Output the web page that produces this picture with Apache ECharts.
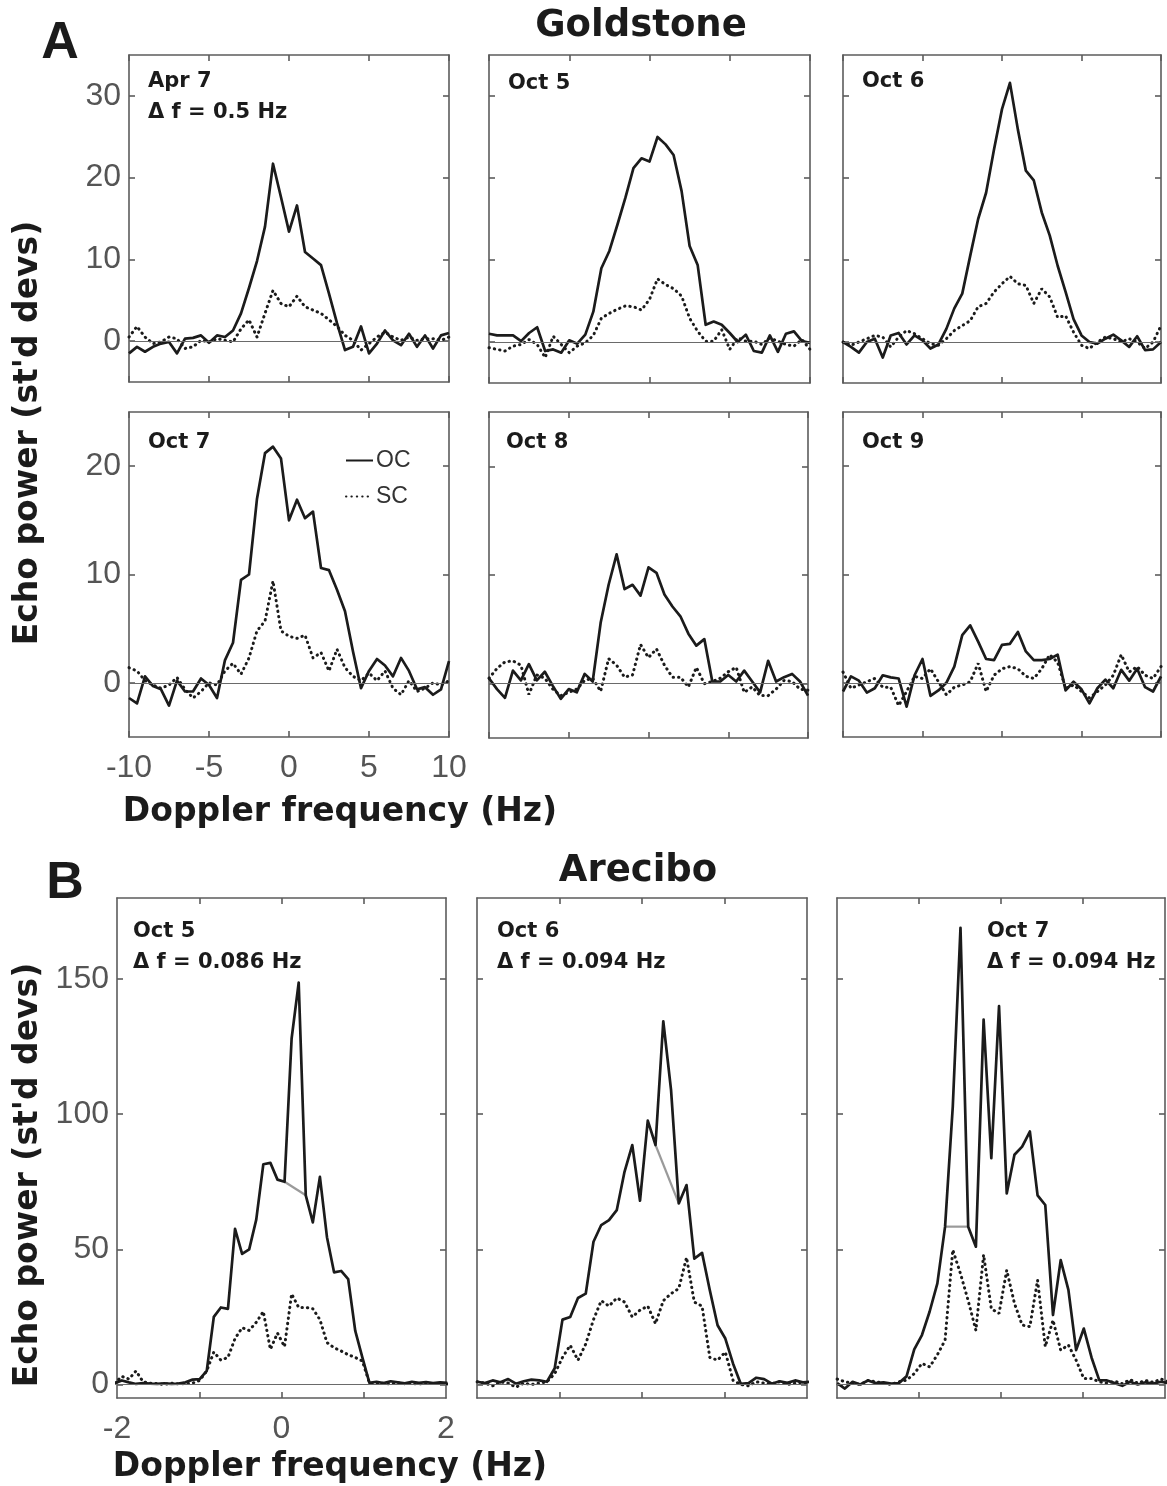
<!DOCTYPE html>
<html>
<head>
<meta charset="utf-8">
<title>Echo power spectra - Goldstone / Arecibo</title>
<script src="https://cdn.jsdelivr.net/npm/echarts@6/dist/echarts.min.js"></script>
<style>
  html, body { margin: 0; padding: 0; background: #fff; }
  #chart { width: 1167px; height: 1486px; }
</style>
</head>
<body>
<div id="chart"></div>
<script>
// ---- data -----------------------------------------------------------

// Goldstone, 0.5 Hz bins
const FREQ_GS = [-10, -9.5, -9, -8.5, -8, -7.5, -7, -6.5, -6, -5.5, -5, -4.5, -4, -3.5, -3, -2.5, -2, -1.5, -1, -0.5,
  0, 0.5, 1, 1.5, 2, 2.5, 3, 3.5, 4, 4.5, 5, 5.5, 6, 6.5, 7, 7.5, 8, 8.5, 9, 9.5, 10];

const GS_APR7_OC = [-1.5, -0.7, -1.3, -0.7, -0.3, -0.1, -1.5, 0.3, 0.4, 0.7, -0.2, 0.7, 0.5, 1.3, 3.4, 6.5, 9.8, 14, 21.7, 17.6,
  13.4, 16.6, 10.9, 10.1, 9.3, 5.8, 2.2, -1.1, -0.7, 1.8, -1.5, -0.3, 1.3, 0.1, -0.5, 0.9, -0.7, 0.7, -0.9, 0.7, 1.0];
const GS_APR7_SC = [0.5, 1.8, 0.5, -0.3, -0.1, 0.5, 0.3, -0.9, -0.7, 0.1, -0.1, 0.3, 0.1, -0.1, 1.5, 2.6, 0.5, 3.4, 6.2, 4.6,
  4.2, 5.5, 4.2, 3.8, 3.4, 2.6, 1.8, 0.7, 0.1, -1.1, -0.3, 0.5, 1.1, 0.5, 0.1, 0.5, 0.1, 0.3, 0.3, 0.1, 0.5];

const GS_OCT5_OC = [1.0, 0.8, 0.8, 0.8, 0.1, 1.1, 1.8, -1.1, -0.9, -1.3, 0.2, -0.2, 0.9, 3.7, 9.0, 11.1, 14.3, 17.6, 21.2, 22.4,
  22.0, 25.0, 24.1, 22.8, 18.4, 11.7, 9.4, 2.1, 2.5, 2.1, 1.1, 0, 0.9, -1.1, -1.3, 0.8, -1.2, 1.0, 1.3, 0.1, -0.1];
const GS_OCT5_SC = [-0.7, -0.9, -1.1, -0.5, -0.3, 0.3, -0.3, -1.9, 0.7, -0.3, -1.3, -0.5, -0.1, 0.8, 2.9, 3.5, 4.0, 4.4, 4.3, 3.9,
  5.2, 7.7, 7.0, 6.5, 5.6, 2.9, 1.3, 0.1, 0.1, 1.5, -0.9, 0.5, 0.1, 0.1, -0.3, 0.5, 0.1, -0.3, -0.5, 0.3, -0.9];

const GS_OCT6_OC = [0, -0.6, -1.3, 0, 0.4, -1.9, 0.8, 1.1, -0.3, 0.8, 0.2, -0.8, -0.3, 1.6, 4.1, 5.9, 10.5, 15.0, 18.2, 23.5,
  28.4, 31.6, 25.9, 20.9, 19.7, 15.8, 13.0, 9.3, 6.1, 2.8, 0.8, 0, -0.2, 0.4, 0.9, 0.2, -0.6, 0.7, -1.0, -0.9, 0];
const GS_OCT6_SC = [0, -0.4, 0, 0.4, 0.8, 0.6, -0.6, 0.6, 1.4, 1.0, 0.4, -0.2, -0.4, 0.4, 1.4, 2.0, 2.6, 4.3, 4.7, 6.1,
  7.1, 8.0, 7.1, 6.9, 4.7, 6.5, 5.5, 3.0, 3.2, 1.2, -0.4, -0.8, 0, 0.6, 0.4, 0, 0.4, 0, -0.8, 0, 2.0];

const GS_OCT7_OC = [-1.4, -1.9, 0.6, -0.3, -0.6, -2.1, 0.2, -0.8, -0.8, 0.4, -0.2, -1.4, 2.1, 3.7, 9.5, 10.0, 17.0, 21.2, 21.8, 20.7,
  15.0, 16.9, 15.2, 15.8, 10.6, 10.4, 8.6, 6.6, 2.9, -0.5, 1.1, 2.2, 1.6, 0.6, 2.3, 1.1, -0.6, -0.4, -1.1, -0.6, 2.0];
const GS_OCT7_SC = [1.4, 1.1, 0.2, -0.2, -0.5, -0.2, 0.5, -0.6, -1.4, -0.8, 0, -0.2, 1.1, 1.8, 0.8, 2.3, 4.8, 5.7, 9.4, 4.8,
  4.3, 4.1, 4.4, 2.3, 2.8, 1.1, 3.1, 1.4, 0.6, 0.2, 0.9, 0.2, 1.1, -0.5, -1.1, 0.2, -0.8, -0.5, 0, -0.2, 0.2];

const GS_OCT8_OC = [0.5, -0.5, -1.3, 1.2, 0.3, 1.8, 0.3, 1.1, -0.2, -1.4, -0.5, -0.8, 0.9, 0.2, 5.6, 9.1, 11.9, 8.7, 9.1, 8.1,
  10.7, 10.2, 8.2, 7.1, 6.2, 4.6, 3.5, 4.1, 0.2, 0.2, 0.8, 0.2, 1.2, 0.2, -0.8, 2.1, 0.2, 0.6, 0.9, 0.2, -1.1];
const GS_OCT8_SC = [0.5, 1.4, 2.0, 2.1, 1.7, -1.0, 0.8, 0.5, -0.5, -1.1, -0.8, -0.5, 0.3, 0.5, -0.7, 2.3, 1.7, 0.6, 0.8, 3.6,
  2.4, 3.2, 1.7, 0.6, 0.6, -0.3, 1.5, 0, 0.2, 0.5, 1.1, 1.5, -0.8, -0.3, -1.1, -1.1, -0.5, 0.3, 0.2, -0.5, -0.6];

const GS_OCT9_OC = [-0.8, 0.6, 0.2, -0.9, -0.5, 0.7, 0.5, 0.4, -2.2, 0.7, 2.2, -1.2, -0.7, 0, 1.5, 4.4, 5.3, 3.8, 2.2, 2.1,
  3.5, 3.6, 4.7, 2.9, 2.1, 2.1, 2.2, 2.6, -0.7, 0.1, -0.6, -1.9, -0.5, 0.3, -0.5, 1.2, 0.2, 1.3, -0.4, -0.8, 0.6];
const GS_OCT9_SC = [1.0, -0.5, -0.2, 0.1, 0.4, -0.4, -0.4, -2.1, -0.8, 0.6, 0.4, 1.3, 0.1, -1.1, -0.4, -0.2, 0.1, 1.8, -0.8, 0.7,
  1.3, 1.5, 1.3, 0.6, 0.4, 1.3, 2.6, 1.9, -0.5, -0.2, -0.8, -1.4, -0.8, -0.2, 0.7, 2.6, 1.0, 1.5, 0.7, 0.4, 1.5];

// Arecibo, Oct 5: 0.086 Hz bins
const FREQ_AR5 = [-2.027, -1.941, -1.855, -1.769, -1.683, -1.597, -1.511, -1.425, -1.339, -1.253, -1.167, -1.081,
  -0.995, -0.909, -0.823, -0.737, -0.651, -0.565, -0.479, -0.393, -0.307, -0.221, -0.135, -0.049,
  0.037, 0.123, 0.209, 0.295, 0.381, 0.467, 0.553, 0.639, 0.725, 0.811, 0.897, 0.983,
  1.069, 1.155, 1.241, 1.327, 1.413, 1.499, 1.585, 1.671, 1.757, 1.843, 1.929, 2.015];
const AR_OCT5_OC = [0.5, 1.5, 0.8, 0.2, 0.5, 0.3, 0.2, 0.4, 0.2, 0.3, 0.8, 1.8, 2,
  5, 25, 28.5, 28, 57.6, 48.3, 50, 61, 81.5, 82, 75.8, 75, 128, 148.7, 70, 60, 76.8, 54.5, 41.5, 42, 39, 19.8, 10, 0.6,
  1, 0.5, 1.2, 0.8, 0.4, 1, 0.6, 0.9, 0.5, 0.8, 0.6];
const AR_OCT5_SC = [0.5, 3, 2, 5, 1, 0.5, 0.3, 0, 0.5, 0.2, 0.3, 0.5, 1.5,
  5, 12, 9, 10, 17, 21, 20, 23, 27, 13, 19, 14, 33.5, 28.5, 28.5, 28, 24, 15.5, 13.6, 12.4, 11, 10, 8.7, 0.6,
  0.3, 0.5, 0.2, 0.6, 0.3, 0.4, 0.2, 0.5, 0.3, 0.4, 0.2];
const AR_OCT5_GAP = [[0.037, 75], [0.295, 70]];

// Arecibo, Oct 6 and Oct 7: 0.094 Hz bins
const FREQ_AR67 = [-1.998, -1.904, -1.810, -1.716, -1.622, -1.528, -1.434, -1.340, -1.246,
  -1.152, -1.058, -0.964, -0.870, -0.776, -0.682, -0.588, -0.494, -0.400, -0.306, -0.212, -0.118, -0.024,
  0.070, 0.164, 0.258, 0.352, 0.446, 0.540, 0.634, 0.728, 0.822, 0.916, 1.010, 1.104, 1.198,
  1.292, 1.386, 1.480, 1.574, 1.668, 1.762, 1.856, 1.950, 2.044];
const AR_OCT6_OC = [1, 0.5, 1.5, 0.8, 2, 0.3, 1.2, 1.8, 1.5,
  1, 6, 24, 25, 32, 33.6, 52.8, 59, 60.8, 64.5, 78.7, 88.6, 68, 97.6, 88.6, 134.4, 109, 67, 73.8, 46.6, 48.7, 34.9, 21.9, 17, 7.7, 0.2,
  0.5, 2.5, 2, 0.3, 1.2, 0.6, 1.5, 0.8, 1];
const AR_OCT6_SC = [1, 0.5, -0.5, 1, 0.5, -1, 0.5, 0, 0.5,
  1, 4, 10, 14.5, 9, 15, 24, 31, 29, 32, 30.5, 25, 27.5, 29, 22.5, 31, 33.6, 35.5, 47, 30.5, 29, 10, 9, 12, 1.5, 0,
  -0.5, 1, 0.5, 0.3, 1, 0, 0.5, 0.8, 0.3];
const AR_OCT6_GAP = [[0.164, 88.6], [0.446, 67]];

const AR_OCT7_OC = [0.5, -1.5, 1, 0, 1.5, 0.5, 0.8, 0.3, 0.5,
  3, 13, 18.3, 27, 37.4, 58.4, 102.8, 169, 58.4, 51, 135, 83.7, 140, 70.7, 85, 88, 93.6, 70, 66.4, 25.7, 46, 35, 12.7, 20.7, 10, 1.6,
  1.5, 0.5, -0.5, 1, 0, 0.8, 0.3, 1, 0.5];
const AR_OCT7_SC = [2, 1, 0.5, 0, 1.5, 1, 0.5, 0, 1,
  1.6, 4, 7.8, 6.5, 11, 16.4, 49.8, 41, 31, 20, 48, 28, 26.3, 42.3, 30, 22, 21.4, 38.6, 14, 23.8, 12.7, 14.6, 9, 2.2, 2.2, 1,
  0.5, 1.2, 0.3, 1.8, 0.5, 1.5, 0.8, 2, 1];
const AR_OCT7_GAP = [[-0.682, 58.4], [-0.400, 58.4]];

// tick labels
const GS_X_LABELS = [-10, -5, 0, 5, 10];
const GS_Y_TICKS_TOP = [0, 10, 20, 30];
const GS_Y_TICKS_BOTTOM = [0, 10, 20];
const AR_X_TICKS = [-1, 0, 1];
const AR_X_LABELS = [-2, 0, 2];
const AR_Y_TICKS = [0, 50, 100, 150];

// ---- look ----------------------------------------------------------
const FONT_TEXT = '"DejaVu Sans", Verdana, sans-serif';
const FONT_TICK = '"Liberation Sans", Arial, sans-serif';
const INK = '#1b1b1b';
const FRAME = '#5c5c5c';
const TICK_TEXT = '#555';

/**
 * Panel layout: box = [left, top, width, height] in px,
 * note = offset of the date label inside the box
 */
const PANELS = [
  { label: 'Apr 7\nΔ f = 0.5 Hz', box: [129, 55, 320, 327], note: [19, 11], freq: FREQ_GS, oc: GS_APR7_OC, sc: GS_APR7_SC,
    xr: [-10, 10], xTicks: GS_X_LABELS, xLabels: null, yr: [-5, 35], yTicks: GS_Y_TICKS_TOP, showY: true },
  { label: 'Oct 5', box: [489, 55, 321, 328], note: [19, 13], freq: FREQ_GS, oc: GS_OCT5_OC, sc: GS_OCT5_SC,
    xr: [-10, 10], xTicks: GS_X_LABELS, xLabels: null, yr: [-5, 35], yTicks: GS_Y_TICKS_TOP, showY: false },
  { label: 'Oct 6', box: [843, 55, 318, 328], note: [19, 11], freq: FREQ_GS, oc: GS_OCT6_OC, sc: GS_OCT6_SC,
    xr: [-10, 10], xTicks: GS_X_LABELS, xLabels: null, yr: [-5, 35], yTicks: GS_Y_TICKS_TOP, showY: false },
  { label: 'Oct 7', box: [129, 412, 320, 325], note: [19, 15], freq: FREQ_GS, oc: GS_OCT7_OC, sc: GS_OCT7_SC,
    xr: [-10, 10], xTicks: GS_X_LABELS, xLabels: GS_X_LABELS, yr: [-5, 25], yTicks: GS_Y_TICKS_BOTTOM, showY: true },
  { label: 'Oct 8', box: [489, 412, 319, 326], note: [17, 15], freq: FREQ_GS, oc: GS_OCT8_OC, sc: GS_OCT8_SC,
    xr: [-10, 10], xTicks: GS_X_LABELS, xLabels: null, yr: [-5, 25], yTicks: GS_Y_TICKS_BOTTOM, showY: false },
  { label: 'Oct 9', box: [843, 412, 318, 325], note: [19, 15], freq: FREQ_GS, oc: GS_OCT9_OC, sc: GS_OCT9_SC,
    xr: [-10, 10], xTicks: GS_X_LABELS, xLabels: null, yr: [-5, 25], yTicks: GS_Y_TICKS_BOTTOM, showY: false },
  { label: 'Oct 5\nΔ f = 0.086 Hz', box: [117, 898, 329, 500], note: [16, 18], freq: FREQ_AR5, oc: AR_OCT5_OC, sc: AR_OCT5_SC, gap: AR_OCT5_GAP,
    xr: [-2, 2], xTicks: AR_X_TICKS, xLabels: AR_X_LABELS, yr: [-5, 180], yTicks: AR_Y_TICKS, showY: true },
  { label: 'Oct 6\nΔ f = 0.094 Hz', box: [477, 898, 330, 500], note: [20, 18], freq: FREQ_AR67, oc: AR_OCT6_OC, sc: AR_OCT6_SC, gap: AR_OCT6_GAP,
    xr: [-2, 2], xTicks: AR_X_TICKS, xLabels: null, yr: [-5, 180], yTicks: AR_Y_TICKS, showY: false },
  { label: 'Oct 7\nΔ f = 0.094 Hz', box: [837, 898, 328, 500], note: [150, 18], freq: FREQ_AR67, oc: AR_OCT7_OC, sc: AR_OCT7_SC, gap: AR_OCT7_GAP,
    xr: [-2, 2], xTicks: AR_X_TICKS, xLabels: null, yr: [-5, 180], yTicks: AR_Y_TICKS, showY: false },
];

/**
 * Pairs a frequency array with a power array
 */
function zip(freq, values) {
  return values.map((v, i) => [freq[i], v]);
}

/**
 * Builds one axis of the boxed MATLAB-style frame
 */
function frameAxis(gridIndex, position, range, ticks, labels, margin) {
  return {
    type: 'value',
    gridIndex,
    position,
    min: range[0],
    max: range[1],
    axisLine: { show: true, onZero: false, lineStyle: { color: FRAME, width: 1.6 } },
    axisTick: { show: true, inside: true, length: 6, customValues: ticks, lineStyle: { color: FRAME, width: 1.6 } },
    axisLabel: labels
      ? { show: true, customValues: labels, margin, color: TICK_TEXT, fontFamily: FONT_TICK, fontSize: 32 }
      : { show: false },
    splitLine: { show: false },
  };
}

const option = {
  backgroundColor: '#fff',
  animation: false,
  grid: [],
  xAxis: [],
  yAxis: [],
  series: [],
  graphic: [],
  legend: {
    data: ['OC', 'SC'],
    orient: 'vertical',
    left: 345,
    top: 449,
    padding: 0,
    itemWidth: 27,
    itemHeight: 12,
    itemGap: 13,
    selectedMode: false,
    itemStyle: { opacity: 0 },
    textStyle: { fontFamily: FONT_TICK, fontSize: 23, color: '#333', padding: [0, 0, 0, -2] },
  },
};

PANELS.forEach((p, idx) => {
  const [left, top, width, height] = p.box;
  option.grid.push({ left, top, width, height, show: false });

  option.xAxis.push(frameAxis(idx, 'bottom', p.xr, p.xTicks, p.xLabels, 15));
  option.xAxis.push(frameAxis(idx, 'top', p.xr, p.xTicks, null, 0));
  option.yAxis.push(frameAxis(idx, 'left', p.yr, p.yTicks, p.showY ? p.yTicks : null, 8));
  option.yAxis.push(frameAxis(idx, 'right', p.yr, p.yTicks, null, 0));

  const axes = { xAxisIndex: idx * 2, yAxisIndex: idx * 2 };

  // opposite-circular echo, solid
  option.series.push({
    name: 'OC', type: 'line', ...axes,
    data: zip(p.freq, p.oc),
    symbol: 'none', z: 4,
    emphasis: { disabled: true },
    lineStyle: { color: INK, width: 2.7, join: 'round' },
    itemStyle: { color: INK },
    markLine: {
      silent: true, symbol: ['none', 'none'], label: { show: false },
      lineStyle: { color: '#6a6a6a', width: 1.2, type: 'solid' },
      data: [{ yAxis: 0 }],
    },
  });

  // same-circular echo, dotted
  option.series.push({
    name: 'SC', type: 'line', ...axes,
    data: zip(p.freq, p.sc),
    symbol: 'none', z: 3,
    emphasis: { disabled: true },
    lineStyle: { color: INK, width: 3, type: [0.4, 5], cap: 'round' },
    itemStyle: { color: INK },
  });

  // grey bridge under the narrow spike
  if (p.gap) {
    option.series.push({
      name: 'bridge', type: 'line', ...axes,
      data: p.gap, symbol: 'none', z: 2,
      emphasis: { disabled: true },
      lineStyle: { color: '#9a9a9a', width: 2.2 },
    });
  }

  option.graphic.push({
    type: 'text', left: left + p.note[0], top: top + p.note[1], silent: true,
    style: { text: p.label, font: 'bold 21px ' + FONT_TEXT, fill: INK, lineHeight: 31 },
  });
});

// headings and axis titles
const bold = (size) => 'bold ' + size + 'px ' + FONT_TEXT;
const YTITLE = "Echo power (st'd devs)";
const XTITLE = 'Doppler frequency (Hz)';

option.graphic.push(
  { type: 'text', x: 60, y: 44, silent: true, style: { text: 'A', font: 'bold 52px "Liberation Sans", Arial', fill: INK, align: 'center', verticalAlign: 'middle' } },
  { type: 'text', x: 65, y: 884, silent: true, style: { text: 'B', font: 'bold 52px "Liberation Sans", Arial', fill: INK, align: 'center', verticalAlign: 'middle' } },
  { type: 'text', x: 641, y: 26, silent: true, style: { text: 'Goldstone', font: bold(37), fill: INK, align: 'center', verticalAlign: 'middle' } },
  { type: 'text', x: 638, y: 871, silent: true, style: { text: 'Arecibo', font: bold(37), fill: INK, align: 'center', verticalAlign: 'middle' } },
  { type: 'text', x: 28, y: 433, rotation: Math.PI / 2, silent: true, style: { text: YTITLE, font: bold(33), fill: INK, align: 'center', verticalAlign: 'middle' } },
  { type: 'text', x: 28, y: 1175, rotation: Math.PI / 2, silent: true, style: { text: YTITLE, font: bold(33), fill: INK, align: 'center', verticalAlign: 'middle' } },
  { type: 'text', x: 340, y: 812, silent: true, style: { text: XTITLE, font: bold(33), fill: INK, align: 'center', verticalAlign: 'middle' } },
  { type: 'text', x: 330, y: 1467, silent: true, style: { text: XTITLE, font: bold(33), fill: INK, align: 'center', verticalAlign: 'middle' } }
);

try {
  const chart = echarts.init(document.getElementById('chart'), null, { renderer: 'canvas' });
  chart.setOption(option);
} catch (error) {
  console.error('Failed to render chart:', error.message);
}
</script>
</body>
</html>
